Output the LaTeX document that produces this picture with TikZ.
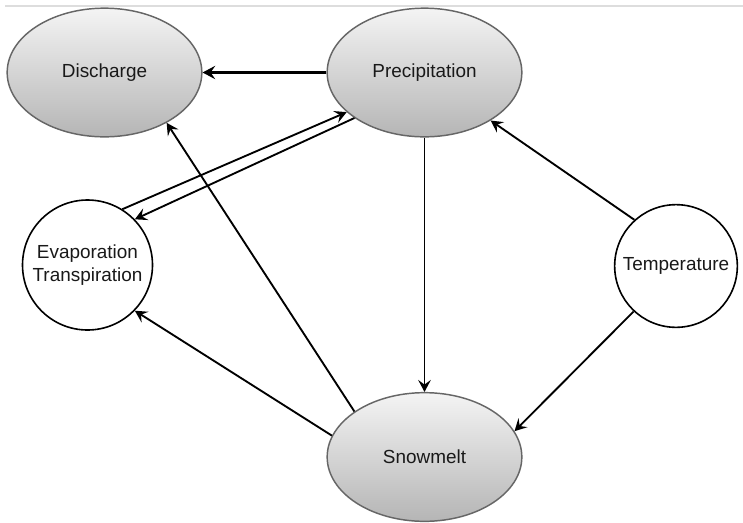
\documentclass[tikz,border=0pt]{standalone}
\usepackage{fontspec}
\setmainfont{Liberation Sans}
\usetikzlibrary{arrows.meta,shapes.geometric}
\definecolor{gtop}{HTML}{F4F4F4}
\definecolor{gbot}{HTML}{B5B5B5}
\definecolor{gborder}{HTML}{666666}
\definecolor{topline}{HTML}{DDDDDD}
\begin{document}
\begin{tikzpicture}[x=0.75pt,y=-0.75pt,
  lbl/.style={font=\fontsize{14.2}{17.2}\selectfont, text=black!90},
  grayell/.style={ellipse, draw=gborder, line width=1.1pt, top color=gtop, bottom color=gbot,
    minimum width=146pt, minimum height=96.5pt, inner sep=0pt, lbl},
  whitecirc/.style={circle, draw=black, line width=1.2pt, fill=white, inner sep=0pt,
    align=center, lbl},
  link/.style={-{Stealth[length=9pt,width=9.5pt,inset=3.5pt]}, line width=1.4pt},
  thicklink/.style={-{Stealth[length=9.5pt,width=10pt,inset=3.5pt]}, line width=2.1pt},
]
\useasboundingbox (0,0) rectangle (743,522);
\fill[white] (0,0) rectangle (743,522);
\coordinate (tl) at (5,6);
\coordinate (tr) at (743,6);
\draw[topline, line width=1.5pt] (tl) -- (tr);

\node[grayell] (discharge) at (104.5,72.5) {Discharge};
\node[grayell] (precip) at (424.5,72.5) {Precipitation};
\node[grayell] (snow) at (424.5,457) {Snowmelt};
\node[whitecirc, minimum size=97.5pt] (evap) at (87.5,265) {Evaporation\\Transpiration};
\node[whitecirc, minimum size=92pt] (temp) at (676,266) {Temperature};

\draw[thicklink] (precip.west) -- (discharge.east);
\draw[link] (snow.147) -- (discharge.-39);
\draw[link] (snow.167) -- (evap.-44);
\draw[link] (precip.south) -- (snow.north);
\draw[link] (temp.132) -- (precip.-36);
\draw[link] (temp.-133) -- (snow.16);
\draw[link] (evap.58) -- (precip.207);
\draw[link] (precip.213) -- (evap.44);
\end{tikzpicture}
\end{document}
